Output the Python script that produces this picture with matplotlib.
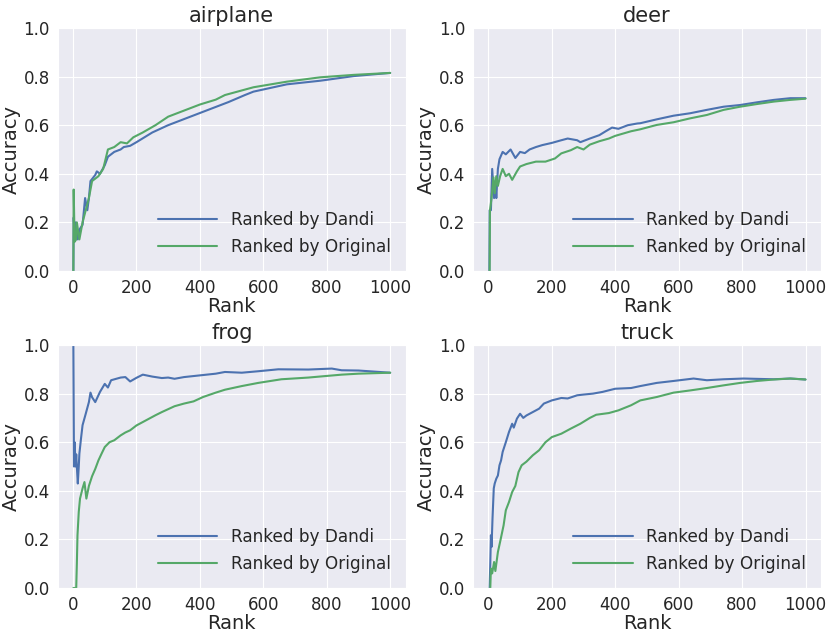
import matplotlib
matplotlib.use("Agg")
import matplotlib.pyplot as plt
import seaborn as sns


CLASSES = ["airplane", "deer", "frog", "truck"]
LABEL_DANDI = "Ranked by Dandi"
LABEL_ORIG = "Ranked by Original"
X_TICKS = [0, 200, 400, 600, 800, 1000]
Y_TICKS = [0.0, 0.2, 0.4, 0.6, 0.8, 1.0]

# values (rank, accuracy)
airplane_dandi_rank = [1, 2, 5, 8, 15, 20, 30, 38, 45, 50, 55, 70, 75, 85, 100, 110, 130, 150, 160,
                       180, 200, 250, 300, 350, 400, 450, 490, 542, 569, 674, 780, 885, 1000]
airplane_dandi_acc = [0.0, 0.22, 0.15, 0.2, 0.13, 0.17, 0.19, 0.30, 0.25, 0.30, 0.37, 0.395, 0.41, 0.40,
                      0.435, 0.47, 0.49, 0.50, 0.51, 0.515, 0.53, 0.57, 0.60, 0.625, 0.65, 0.675, 0.695,
                      0.724, 0.738, 0.768, 0.783, 0.802, 0.815]
airplane_orig_rank = [1, 2, 5, 10, 12, 20, 30, 40, 50, 60, 80, 95, 110, 130, 150, 170, 190, 220, 260,
                      300, 350, 400, 450, 479, 569, 674, 780, 885, 1000]
airplane_orig_acc = [0.0, 0.335, 0.12, 0.13, 0.2, 0.13, 0.2, 0.25, 0.30, 0.37, 0.39, 0.42, 0.50, 0.51,
                     0.53, 0.525, 0.55, 0.57, 0.60, 0.635, 0.66, 0.685, 0.705, 0.724, 0.756, 0.779,
                     0.797, 0.807, 0.815]

deer_dandi_rank = [3, 4, 8, 12, 18, 22, 25, 30, 35, 45, 55, 70, 85, 100, 115, 130, 150, 170, 200, 230,
                   250, 280, 290, 320, 350, 370, 390, 410, 440, 470, 479, 531, 584, 636, 689, 742, 794,
                   847, 900, 952, 1000]
deer_dandi_acc = [0.0, 0.25, 0.25, 0.42, 0.30, 0.37, 0.30, 0.42, 0.46, 0.49, 0.48, 0.50, 0.465, 0.49,
                  0.485, 0.50, 0.51, 0.518, 0.527, 0.538, 0.545, 0.538, 0.53, 0.545, 0.559, 0.575, 0.59,
                  0.585, 0.6, 0.607, 0.608, 0.624, 0.639, 0.649, 0.663, 0.676, 0.683, 0.694, 0.704,
                  0.711, 0.711]
deer_orig_rank = [4, 5, 10, 16, 20, 25, 30, 37, 45, 55, 65, 75, 90, 100, 120, 150, 180, 210, 230, 260,
                  280, 300, 320, 350, 380, 400, 450, 479, 531, 584, 636, 689, 742, 794, 847, 900, 952, 1000]
deer_orig_acc = [0.0, 0.25, 0.30, 0.385, 0.32, 0.39, 0.35, 0.39, 0.42, 0.39, 0.40, 0.375, 0.41, 0.43,
                 0.44, 0.45, 0.45, 0.463, 0.484, 0.497, 0.51, 0.50, 0.52, 0.534, 0.545, 0.556, 0.575,
                 0.583, 0.601, 0.612, 0.628, 0.642, 0.663, 0.676, 0.687, 0.697, 0.704, 0.709]

frog_dandi_rank = [1, 2, 3, 5, 8, 10, 12, 15, 18, 20, 25, 30, 40, 50, 55, 60, 70, 85, 100, 110, 120,
                   150, 165, 180, 200, 220, 250, 280, 300, 320, 350, 400, 450, 479, 532, 584, 647, 742,
                   816, 847, 900, 1000]
frog_dandi_acc = [1.0, 0.75, 0.5, 0.6, 0.5, 0.55, 0.5, 0.43, 0.5, 0.553, 0.614, 0.67, 0.717, 0.765,
                  0.804, 0.785, 0.765, 0.807, 0.84, 0.825, 0.855, 0.866, 0.868, 0.85, 0.865, 0.878,
                  0.87, 0.864, 0.866, 0.861, 0.868, 0.875, 0.882, 0.889, 0.886, 0.892, 0.9, 0.899,
                  0.903, 0.896, 0.895, 0.886]
frog_orig_rank = [1, 10, 12, 14, 18, 22, 30, 36, 42, 50, 60, 70, 80, 90, 100, 115, 130, 150, 165, 180,
                  200, 230, 260, 280, 320, 350, 380, 410, 450, 479, 532, 584, 657, 742, 794, 847, 900, 1000]
frog_orig_acc = [0.0, 0.0, 0.1, 0.217, 0.313, 0.368, 0.41, 0.436, 0.368, 0.42, 0.46, 0.49, 0.525,
                 0.553, 0.58, 0.6, 0.608, 0.628, 0.64, 0.649, 0.669, 0.69, 0.711, 0.724, 0.748, 0.759,
                 0.768, 0.786, 0.804, 0.816, 0.831, 0.844, 0.859, 0.866, 0.872, 0.878, 0.882, 0.886]

truck_dandi_rank = [4, 6, 8, 10, 13, 17, 20, 25, 30, 35, 40, 45, 55, 65, 75, 80, 90, 100, 110, 120,
                    140, 160, 175, 200, 230, 250, 280, 300, 330, 360, 400, 450, 479, 531, 584, 647,
                    689, 742, 805, 900, 952, 1000]
truck_dandi_acc = [0.0, 0.1, 0.217, 0.169, 0.285, 0.41, 0.43, 0.45, 0.463, 0.505, 0.525, 0.56, 0.6,
                   0.642, 0.676, 0.66, 0.697, 0.717, 0.70, 0.71, 0.724, 0.738, 0.759, 0.772, 0.782,
                   0.78, 0.793, 0.796, 0.80, 0.807, 0.82, 0.823, 0.831, 0.844, 0.852, 0.862, 0.855,
                   0.859, 0.862, 0.859, 0.862, 0.858]
truck_orig_rank = [6, 8, 12, 18, 22, 30, 38, 48, 55, 65, 75, 85, 95, 105, 120, 140, 160, 180, 200,
                   230, 260, 290, 320, 340, 380, 410, 450, 479, 531, 584, 636, 689, 742, 794, 847,
                   900, 952, 1000]
truck_orig_acc = [0.0, 0.08, 0.06, 0.107, 0.07, 0.148, 0.196, 0.258, 0.32, 0.354, 0.395, 0.42, 0.477,
                  0.505, 0.52, 0.546, 0.567, 0.60, 0.621, 0.635, 0.656, 0.676, 0.70, 0.713, 0.72,
                  0.731, 0.752, 0.772, 0.786, 0.804, 0.813, 0.823, 0.834, 0.844, 0.852, 0.858, 0.862,
                  0.858]

SERIES = {
    "airplane": (airplane_dandi_rank, airplane_dandi_acc, airplane_orig_rank, airplane_orig_acc),
    "deer": (deer_dandi_rank, deer_dandi_acc, deer_orig_rank, deer_orig_acc),
    "frog": (frog_dandi_rank, frog_dandi_acc, frog_orig_rank, frog_orig_acc),
    "truck": (truck_dandi_rank, truck_dandi_acc, truck_orig_rank, truck_orig_acc),
}

BLUE = "#4C72B0"
GREEN = "#55A868"

sns.set_style("darkgrid")
plt.rcParams["font.family"] = ["DejaVu Sans"]

fig = plt.figure(figsize=(8.31, 6.37), dpi=100)
positions = [
    [0.0692, 0.5746, 0.4194, 0.3815],
    [0.5690, 0.5746, 0.4194, 0.3815],
    [0.0692, 0.0769, 0.4194, 0.3815],
    [0.5690, 0.0769, 0.4194, 0.3815],
]

for name, pos in zip(CLASSES, positions):
    ax = fig.add_axes(pos)
    d_rank, d_acc, o_rank, o_acc = SERIES[name]
    ax.plot(d_rank, d_acc, color=BLUE, lw=1.5, label=LABEL_DANDI)
    ax.plot(o_rank, o_acc, color=GREEN, lw=1.5, label=LABEL_ORIG)
    ax.set_xlim(-49, 1050)
    ax.set_ylim(0, 1)
    ax.set_xticks(X_TICKS)
    ax.set_yticks(Y_TICKS)
    ax.tick_params(labelsize=12, pad=2)
    ax.set_title(name, fontsize=15, pad=4)
    ax.set_xlabel("Rank", fontsize=14, labelpad=0)
    ax.set_ylabel("Accuracy", fontsize=14, labelpad=2)
    ax.legend(loc="lower right", fontsize=12.2, frameon=False, handlelength=3.5)

fig.savefig("out.png", dpi=100)
